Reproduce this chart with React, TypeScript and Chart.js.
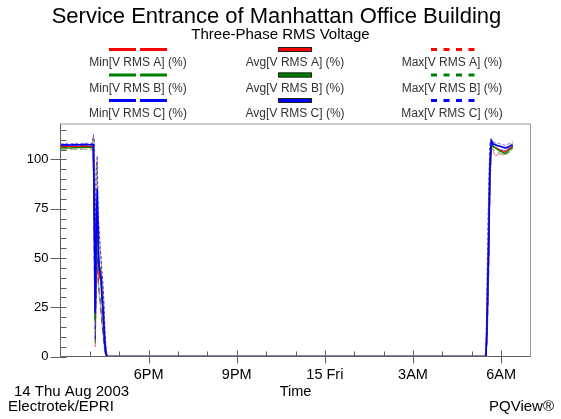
import React, { useEffect, useRef } from 'react';
import { Chart, registerables } from 'chart.js';

Chart.register(...registerables);

// minutes after 15:00 on 14 Thu Aug 2003
const times = [
  0, 5, 10, 15, 20, 25, 30, 35, 40, 45, 50, 55, 60, 65,
  67, 69, 71, 73, 75, 77, 79, 81, 83, 85, 87, 89, 91, 93, 95,
  300, 600, 867,
  869, 871, 873, 875, 877, 880, 884, 888, 892, 896, 900, 904, 908, 912, 916, 920, 924,
];

const avgA = [
  106.4, 106.5, 106.6, 106.5, 106.4, 106.6, 106.7, 106.6, 106.5, 106.7, 106.8, 106.7, 106.6, 106.8,
  106.5, 70, 20, 60, 80, 55, 40, 42, 38, 30, 22, 12, 5, 1, 0,
  0, 0, 0,
  0, 12, 35, 58, 92, 108.5, 106.5, 106, 105.5, 105, 104.5, 104, 103.8, 104.5, 105.5, 106, 106.5,
];
const avgB = [
  105.8, 105.9, 106.0, 105.9, 105.8, 106.0, 106.1, 106.0, 105.9, 106.1, 106.2, 106.1, 106.0, 106.2,
  106.0, 72, 18, 58, 78, 52, 46, 45, 36, 28, 20, 10, 4, 1, 0,
  0, 0, 0,
  0, 13, 36, 60, 93, 108.8, 106.5, 106, 105.2, 104.5, 104, 103.5, 103, 103.5, 104.8, 105.5, 106,
];
const avgC = [
  107.3, 107.4, 107.5, 107.4, 107.3, 107.5, 107.6, 107.5, 107.4, 107.6, 107.7, 107.6, 107.5, 107.7,
  107.6, 75, 22, 62, 85, 58, 45, 43, 40, 30, 24, 14, 6, 2, 0,
  0, 0, 0,
  0, 15, 40, 62, 96, 109.5, 107.8, 107.5, 107, 106.8, 106.5, 106.2, 105.8, 106, 106.5, 107, 107.4,
];
const minA = [
  105.6, 105.8, 105.7, 105.5, 105.6, 105.9, 105.8, 105.7, 105.8, 105.9, 106.0, 105.8, 105.7, 105.9,
  105.5, 40, 5, 30, 50, 35, 30, 25, 20, 15, 10, 5, 2, 0, 0,
  0, 0, 0,
  0, 5, 20, 45, 80, 106, 104.5, 101, 102.5, 103, 102, 103, 102.5, 103, 104, 105, 105.5,
];
const minB = [
  104.8, 105.0, 105.1, 104.7, 104.9, 105.2, 105.0, 104.9, 105.0, 105.3, 105.2, 105.0, 104.9, 105.1,
  104.8, 42, 6, 32, 52, 38, 32, 28, 22, 16, 12, 6, 2, 0, 0,
  0, 0, 0,
  0, 6, 22, 46, 82, 106.5, 105, 104.5, 104, 103.5, 102.8, 102.5, 102, 102.5, 103.5, 104.5, 105,
];
const minC = [
  106.7, 106.8, 106.9, 106.6, 106.7, 106.9, 107.0, 106.8, 106.9, 107.0, 107.1, 107.0, 106.8, 107.0,
  106.8, 45, 8, 35, 55, 40, 35, 30, 25, 18, 12, 6, 2, 0, 0,
  0, 0, 0,
  0, 8, 25, 50, 85, 107, 106.5, 106, 105.5, 105.2, 105, 104.8, 104.5, 104.8, 105.5, 106, 106.5,
];
const maxA = [
  107.2, 107.3, 107.4, 107.3, 107.2, 107.4, 107.5, 107.4, 107.3, 107.5, 107.6, 107.5, 107.4, 107.6,
  112, 110, 60, 95, 100, 70, 64, 55, 48, 40, 35, 25, 12, 4, 0,
  0, 0, 0,
  2, 30, 60, 85, 105, 110, 108.5, 108, 107.5, 107, 106.8, 106.5, 106.2, 106.5, 107, 107.8, 108.5,
];
const maxB = [
  106.8, 106.9, 107.0, 106.9, 106.8, 107.0, 107.1, 107.0, 106.9, 107.1, 107.2, 107.1, 107.0, 107.2,
  111, 108, 58, 92, 98, 68, 62, 55, 47, 40, 33, 22, 10, 3, 0,
  0, 0, 0,
  2, 32, 62, 86, 106, 110.2, 108.2, 107.8, 107.2, 106.8, 106.5, 106.2, 106, 106.3, 107, 107.5, 108,
];
const maxC = [
  107.9, 108.0, 108.1, 108.0, 107.9, 108.1, 108.2, 108.1, 108.0, 108.2, 108.3, 108.2, 108.1, 108.3,
  112.7, 110, 62, 96, 102, 72, 65, 56, 50, 42, 36, 26, 12, 5, 0,
  0, 0, 0,
  3, 35, 65, 90, 108, 110.5, 109, 108.6, 108.2, 108, 107.8, 107.5, 107.2, 107.5, 108, 108.5, 109,
];

const xTickLabels: Record<number, string> = {
  180: '6PM',
  360: '9PM',
  540: '15 Fri',
  720: '3AM',
  900: '6AM',
};

const title = 'Service Entrance of Manhattan Office Building';
const subtitle = 'Three-Phase RMS Voltage';
const phases = ['A', 'B', 'C'];
const phaseColors = ['#ff0000', '#008000', '#0000ff'];
const phaseFaint = ['rgba(255,0,0,0.55)', 'rgba(0,128,0,0.55)', 'rgba(0,0,255,0.55)'];
const statNames = ['Min', 'Avg', 'Max'];

const FONT = '"Liberation Sans", Arial, sans-serif';

const toPts = (vals: number[]) => vals.map((v, i) => ({ x: times[i], y: v }));

const decorPlugin = {
  id: 'decor',
  afterDraw(chart: any) {
    const { ctx, chartArea: ca, scales } = chart;
    const xs = scales.x;
    const ys = scales.y;
    ctx.save();
    // frame
    ctx.lineWidth = 1;
    ctx.strokeStyle = '#9a9a9a';
    ctx.strokeRect(ca.left, ca.top, ca.right - ca.left, ca.bottom - ca.top);
    ctx.strokeStyle = '#606060';
    ctx.beginPath();
    ctx.moveTo(ca.left, ca.top);
    ctx.lineTo(ca.left, ca.bottom);
    ctx.lineTo(ca.right, ca.bottom);
    ctx.stroke();
    // y ticks
    ctx.strokeStyle = '#606060';
    for (let v = 0; v <= 115; v += 5) {
      const y = Math.round(ys.getPixelForValue(v)) + 0.5;
      ctx.beginPath();
      if (v % 25 === 0) {
        ctx.moveTo(ca.left - 10, y);
        ctx.lineTo(ca.left + 6, y);
      } else {
        ctx.moveTo(ca.left, y);
        ctx.lineTo(ca.left + 6, y);
      }
      ctx.stroke();
    }
    // x ticks
    for (let m = 60; m < 960; m += 60) {
      const x = Math.round(xs.getPixelForValue(m)) + 0.5;
      ctx.beginPath();
      if (m % 180 === 0) {
        ctx.moveTo(x, ca.bottom - 6);
        ctx.lineTo(x, ca.bottom + 7);
      } else {
        ctx.moveTo(x, ca.bottom - 5);
        ctx.lineTo(x, ca.bottom);
      }
      ctx.stroke();
    }

    // titles
    ctx.fillStyle = '#000';
    ctx.textAlign = 'center';
    ctx.textBaseline = 'middle';
    ctx.font = `22px ${FONT}`;
    ctx.fillText(title, 276.5, 17);
    ctx.font = `15px ${FONT}`;
    ctx.fillText(subtitle, 280.5, 35);

    // legend
    const colX = [138, 295, 452];
    const swY = [49.5, 75, 100.5];
    const lbY = [63, 88.5, 114];
    for (let r = 0; r < 3; r++) {
      for (let c = 0; c < 3; c++) {
        const cx = colX[c];
        const col = phaseColors[r];
        ctx.fillStyle = col;
        if (c === 0) {
          ctx.fillRect(cx - 29, swY[r] - 1.5, 27, 3);
          ctx.fillRect(cx + 2, swY[r] - 1.5, 27, 3);
        } else if (c === 1) {
          ctx.fillRect(cx - 17, swY[r] - 2.5, 34, 5);
          ctx.strokeStyle = '#222';
          ctx.lineWidth = 1;
          ctx.strokeRect(cx - 17 + 0.5, swY[r] - 2.5 + 0.5, 33, 4);
        } else {
          for (let k = 0; k < 4; k++) {
            ctx.fillRect(cx - 21 + k * 12.5, swY[r] - 1.5, 6, 3);
          }
        }
        ctx.fillStyle = '#333';
        ctx.font = `12px ${FONT}`;
        ctx.textAlign = 'center';
        ctx.fillText(`${statNames[c]}[V RMS ${phases[r]}] (%)`, cx, lbY[r]);
      }
    }

    // bottom texts
    ctx.fillStyle = '#000';
    ctx.font = `14.5px ${FONT}`;
    ctx.textAlign = 'center';
    ctx.fillText('Time', (ca.left + ca.right) / 2, 392);
    ctx.font = `15px ${FONT}`;
    ctx.textAlign = 'left';
    ctx.fillText('14 Thu Aug 2003', 14, 392);
    ctx.fillText('Electrotek/EPRI', 8, 407);
    ctx.textAlign = 'right';
    ctx.fillText('PQView®', 554, 407);
    ctx.restore();
  },
};

export default function App() {
  const ref = useRef<HTMLCanvasElement>(null);
  useEffect(() => {
    document.body.style.margin = '0';
    const canvas = ref.current!;
    const series = [
      { label: 'Avg[V RMS C] (%)', data: avgC, color: phaseColors[2], dash: [] as number[], w: 1.6 },
      { label: 'Avg[V RMS B] (%)', data: avgB, color: phaseColors[1], dash: [] as number[], w: 1.3 },
      { label: 'Avg[V RMS A] (%)', data: avgA, color: phaseColors[0], dash: [] as number[], w: 1.3 },
      { label: 'Min[V RMS C] (%)', data: minC, color: phaseFaint[2], dash: [7, 3], w: 1 },
      { label: 'Min[V RMS B] (%)', data: minB, color: phaseFaint[1], dash: [7, 3], w: 1 },
      { label: 'Min[V RMS A] (%)', data: minA, color: phaseFaint[0], dash: [7, 3], w: 1 },
      { label: 'Max[V RMS C] (%)', data: maxC, color: phaseFaint[2], dash: [3, 2], w: 1 },
      { label: 'Max[V RMS B] (%)', data: maxB, color: phaseFaint[1], dash: [3, 2], w: 1 },
      { label: 'Max[V RMS A] (%)', data: maxA, color: phaseFaint[0], dash: [3, 2], w: 1 },
    ];
    const chart = new Chart(canvas, {
      type: 'line',
      data: {
        datasets: series.map((s) => ({
          label: s.label,
          data: toPts(s.data),
          borderColor: s.color,
          borderWidth: s.w,
          borderDash: s.dash,
          pointRadius: 0,
          fill: false,
          tension: 0,
        })),
      },
      options: {
        animation: false,
        responsive: false,
        devicePixelRatio: 1,
        layout: { padding: { top: 124, right: 30.5, left: 0, bottom: 0 } },
        plugins: {
          legend: { display: false },
          title: { display: false },
          tooltip: { enabled: false },
        },
        scales: {
          x: {
            type: 'linear',
            min: 0,
            max: 960,
            grid: { display: false, drawTicks: false },
            border: { display: false },
            ticks: {
              stepSize: 60,
              autoSkip: false,
              maxRotation: 0,
              padding: 10,
              color: '#000',
              font: { family: FONT, size: 14.5 },
              callback: (v: any) => xTickLabels[Number(v)] ?? '',
            },
            afterFit: (s: any) => {
              s.height = 62.5;
            },
          },
          y: {
            type: 'linear',
            min: 0,
            max: 118,
            grid: { display: false, drawTicks: false },
            border: { display: false },
            ticks: {
              stepSize: 5,
              autoSkip: false,
              padding: 12,
              color: '#000',
              font: { family: FONT, size: 13 },
              callback: (v: any) => (Number(v) % 25 === 0 ? String(v) : ''),
            },
            afterFit: (s: any) => {
              s.width = 60.5;
            },
          },
        },
      },
      plugins: [decorPlugin],
    });
    return () => chart.destroy();
  }, []);
  return (
    <div style={{ width: 561, height: 419, background: '#fff' }}>
      <canvas ref={ref} width={561} height={419} />
    </div>
  );
}
